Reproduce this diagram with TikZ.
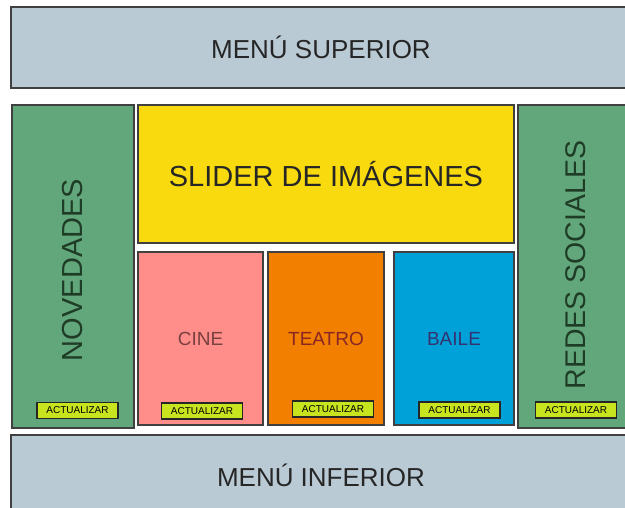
\documentclass[tikz,border=0pt]{standalone}
\usepackage{fontspec}
\setmainfont{Liberation Sans}
\usepackage{tikz}
\usetikzlibrary{positioning}
\definecolor{menugray}{HTML}{B9CAD5}
\definecolor{sidegreen}{HTML}{62A77B}
\definecolor{slideryellow}{HTML}{F8DA0E}
\definecolor{cinepink}{HTML}{FF8D89}
\definecolor{teatroorange}{HTML}{F27F00}
\definecolor{baileblue}{HTML}{00A1D9}
\definecolor{btnlime}{HTML}{C8E41E}
\definecolor{sidetext}{HTML}{1F3D26}
\tikzstyle{panel} = [rectangle, draw=black!75, line width=1.2pt, inner sep=0pt]
\tikzstyle{btn} = [rectangle, draw=black!85, line width=1.3pt, fill=btnlime, minimum width=81pt, minimum height=16pt, inner sep=0pt, font=\fontsize{10}{11}\selectfont, text=black]

\begin{document}
\begin{tikzpicture}[x=1pt, y=1pt]
		\useasboundingbox (0,0) rectangle (625,508);
		\fill[white] (0,0) rectangle (625,508);
		\coordinate (supmenu) at (321,460.5);
		\coordinate (infmenu) at (321,33);
		\coordinate (novedades) at (73,241.5);
		\coordinate (redes) at (579,241.5);
		\coordinate (slider) at (326,334);
		\coordinate (cine) at (200.5,169.5);
		\coordinate (teatro) at (326,169.5);
		\coordinate (baile) at (454,169.5);
		% Menus
		\begin{scope}[every node/.style={panel, fill=menugray, minimum width=620pt, minimum height=81pt, text=black!85, font=\fontsize{26}{28}\selectfont}]
		\node[name=supmenu] at (supmenu) {MENÚ SUPERIOR};
		\node[name=infmenu, minimum height=80pt] at (infmenu) {MENÚ INFERIOR};
		\end{scope}
		% Side columns
		\begin{scope}[every node/.style={panel, fill=sidegreen, minimum width=122pt, minimum height=323pt}]
		\node[name=novedades] at (novedades) {};
		\node[name=redes] at (redes) {};
		\end{scope}
		\node[rotate=90, text=sidetext, font=\fontsize{29}{30}\selectfont] (novtext) at (72.5,238) {NOVEDADES};
		\node[rotate=90, text=sidetext, font=\fontsize{28.5}{30}\selectfont] (redestext) at (576,243) {REDES SOCIALES};
		% Slider
		\node[panel, fill=slideryellow, minimum width=376pt, minimum height=138pt, text=black!85, font=\fontsize{29}{30}\selectfont] (slider) at (slider) {SLIDER DE IMÁGENES};
		% Sections
		\begin{scope}[every node/.style={panel, minimum height=173pt, font=\fontsize{19}{20}\selectfont}]
		\node[name=cine, fill=cinepink, minimum width=125pt, text=red!30!black!75] at (cine) {CINE};
		\node[name=teatro, fill=teatroorange, minimum width=116pt, text=red!45!black!85] at (teatro) {TEATRO};
		\node[name=baile, fill=baileblue, minimum width=120pt, text=blue!30!black!80] at (baile) {BAILE};
		\end{scope}
		% Buttons
		\node[btn] (btnnov) at (77.5,97.5) {ACTUALIZAR};
		\node[btn] (btncine) at (202,97) {ACTUALIZAR};
		\node[btn] (btnteatro) at (333,99) {ACTUALIZAR};
		\node[btn] (btnbaile) at (459.5,98) {ACTUALIZAR};
		\node[btn] (btnredes) at (576,98) {ACTUALIZAR};
		\end{tikzpicture}
\end{document}
